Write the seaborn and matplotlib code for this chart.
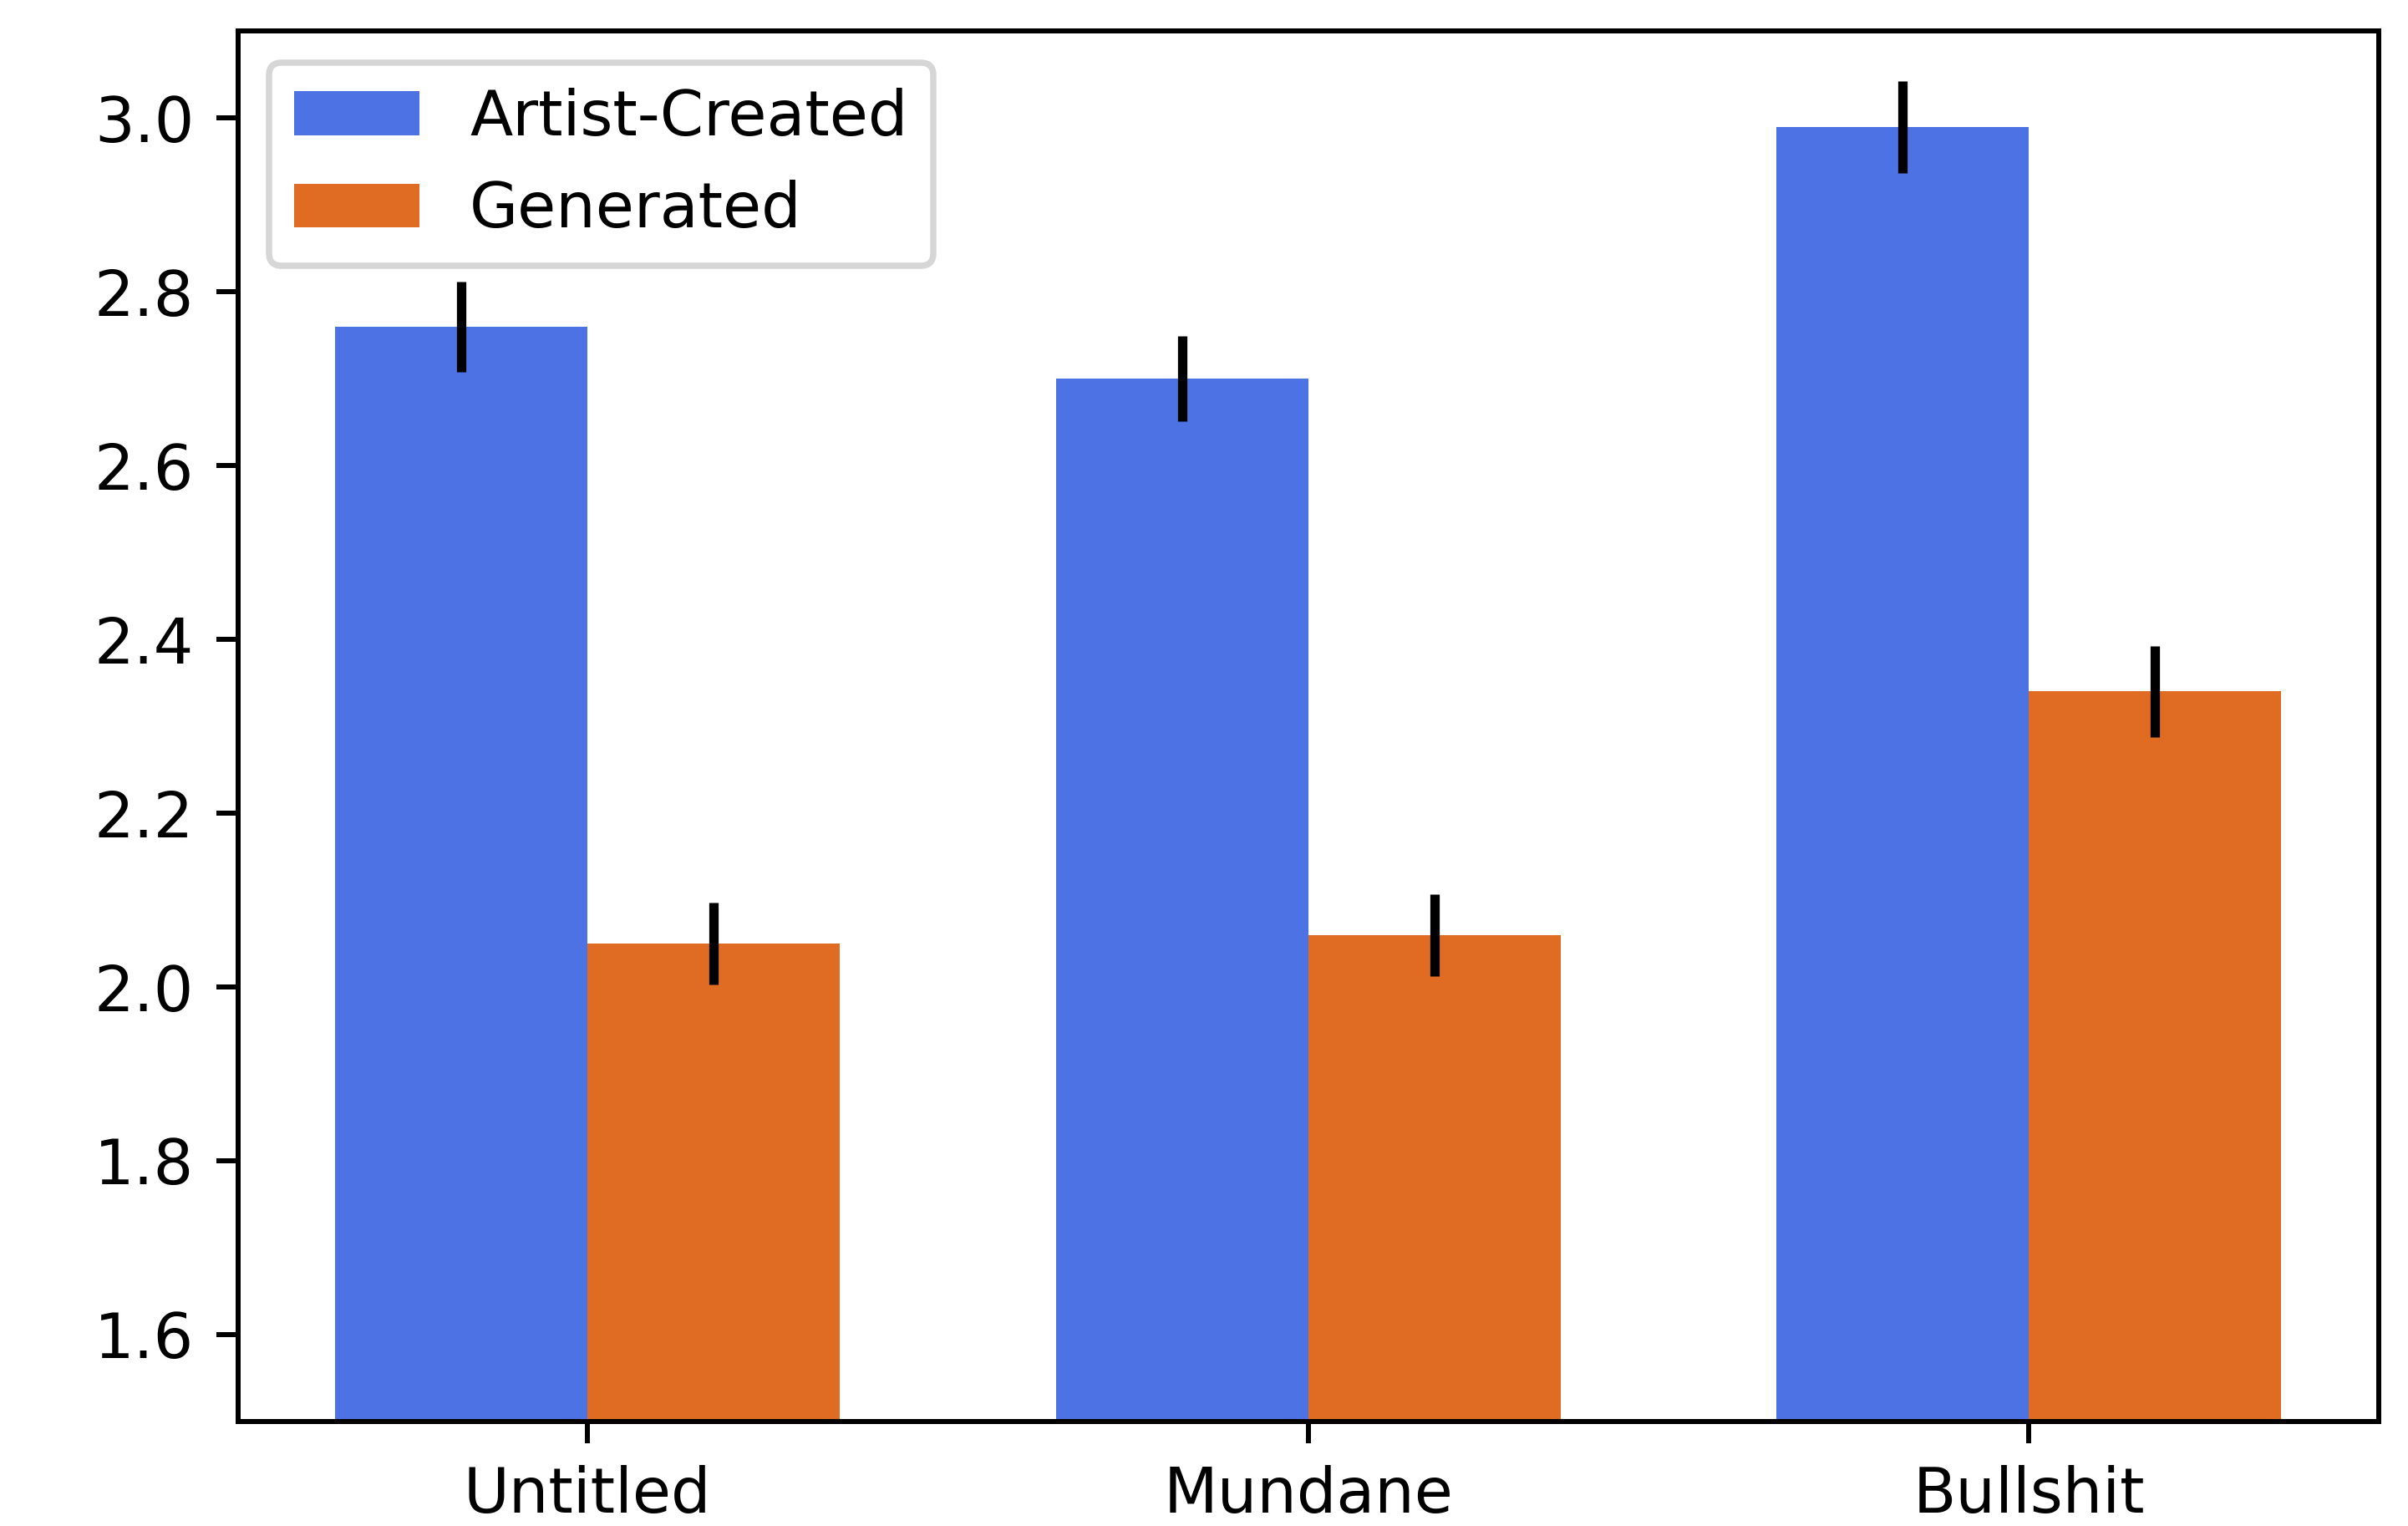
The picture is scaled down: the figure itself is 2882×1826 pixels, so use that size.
import sys
import numpy as np
import pandas as pd
import matplotlib
matplotlib.use("Agg")
import matplotlib.pyplot as plt
import seaborn as sns

# Mean ratings per title condition, with error half-widths
categories = ["Untitled", "Mundane", "Bullshit"]
series = ["Artist-Created", "Generated"]
artist_means = [2.76, 2.70, 2.99]
artist_err = [0.052, 0.049, 0.053]
generated_means = [2.05, 2.06, 2.34]
generated_err = [0.047, 0.047, 0.052]
yticks = [1.6, 1.8, 2.0, 2.2, 2.4, 2.6, 2.8, 3.0]

colors = {"Artist-Created": "#4C72E4", "Generated": "#E06B22"}

df = pd.DataFrame({
    "Condition": categories * 2,
    "Source": [series[0]] * 3 + [series[1]] * 3,
    "Rating": artist_means + generated_means,
    "Err": artist_err + generated_err,
})

DPI = 540
fig = plt.figure(figsize=(2882 / DPI, 1826 / DPI), dpi=DPI)
ax = fig.add_axes([0.0988, 0.0685, 0.9877 - 0.0988, 0.9796 - 0.0685])

sns.barplot(data=df, x="Condition", y="Rating", hue="Source",
            order=categories, hue_order=series, palette=colors,
            saturation=1, width=0.7, gap=0, errorbar=None,
            linewidth=0, ax=ax)

# Error bars at the centre of each drawn bar
for src, cont in zip(series, ax.containers):
    sub = df[df["Source"] == src].set_index("Condition").loc[categories]
    xs = [p.get_x() + p.get_width() / 2 for p in cont.patches]
    ax.errorbar(xs, sub["Rating"].values, yerr=sub["Err"].values,
                fmt="none", ecolor="black", elinewidth=1.5, capsize=0)

ax.set_ylim(1.5, 3.1)
ax.set_xlim(-0.485, 2.485)
ax.set_yticks(yticks)
ax.set_yticklabels([f"{t:.1f}" for t in yticks])
ax.set_xlabel("")
ax.set_ylabel("")
for s in ax.spines.values():
    s.set_visible(True)
    s.set_color("black")
    s.set_linewidth(0.8)
ax.tick_params(direction="out", length=3.5, width=0.8, labelsize=10, colors="black")
ax.legend(loc="upper left", title=None, fontsize=10)

fig.savefig("out.png", dpi=DPI)
print("xlim", ax.get_xlim(), "bbox", ax.get_window_extent(), "size", fig.get_size_inches() * DPI, file=sys.stderr)
